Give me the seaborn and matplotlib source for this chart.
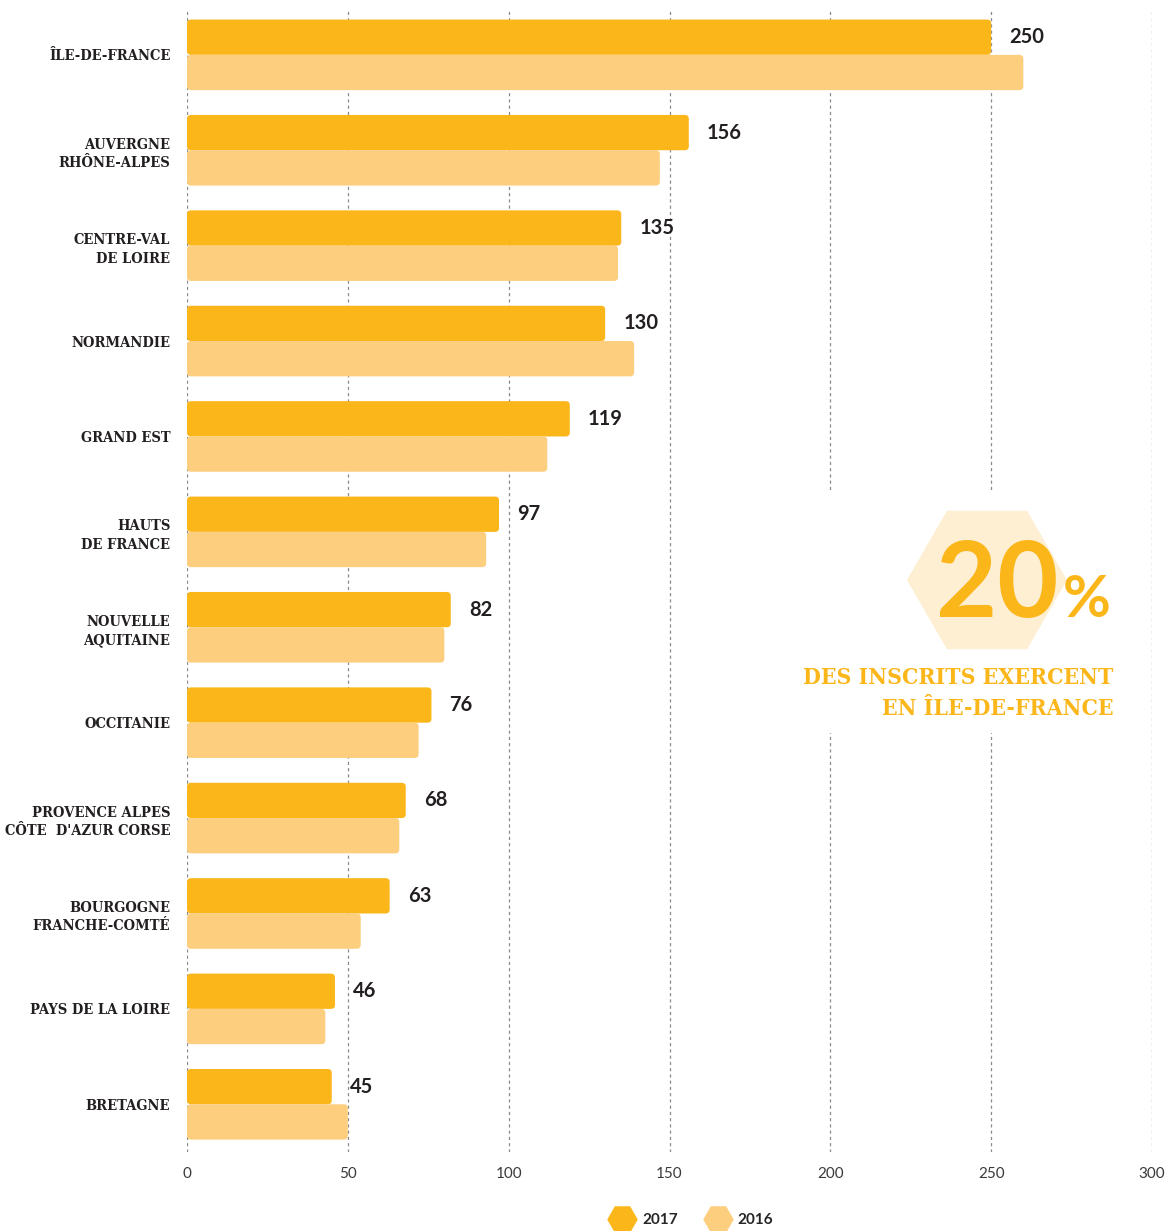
import numpy as np
import pandas as pd
import matplotlib
matplotlib.use("Agg")
import matplotlib.pyplot as plt
import matplotlib.patches as mpatches
import matplotlib.transforms as mtransforms
from matplotlib.lines import Line2D
import seaborn as sns

# Données
regions = ["ÎLE-DE-FRANCE", "AUVERGNE\nRHÔNE-ALPES", "CENTRE-VAL\nDE LOIRE", "NORMANDIE",
           "GRAND EST", "HAUTS\nDE FRANCE", "NOUVELLE\nAQUITAINE", "OCCITANIE",
           "PROVENCE ALPES\nCÔTE  D'AZUR CORSE", "BOURGOGNE\nFRANCHE-COMTÉ",
           "PAYS DE LA LOIRE", "BRETAGNE"]
inscrits_2017 = [250, 156, 135, 130, 119, 97, 82, 76, 68, 63, 46, 45]
inscrits_2016 = [260, 147, 134, 139, 112, 93, 80, 72, 66, 54, 43, 50]
annees = ["2017", "2016"]
x_ticks = [0, 50, 100, 150, 200, 250, 300]

JAUNE = "#FBB61A"
JAUNE_CLAIR = "#FDCE7D"
TEXTE = "#231F20"

df = pd.DataFrame({
    "region": regions * 2,
    "valeur": inscrits_2017 + inscrits_2016,
    "annee": ["2017"] * len(regions) + ["2016"] * len(regions),
})

sns.set_style("white")
W, H = 1169, 1231
fig = plt.figure(figsize=(W / 100, H / 100), dpi=100)
ax = fig.add_axes([187 / W, 1 - 1152 / H, (1152 - 187) / W, (1152 - 10) / H])

sns.barplot(data=df, y="region", x="valeur", hue="annee", hue_order=annees,
            palette=[JAUNE, JAUNE_CLAIR], width=0.74, orient="h",
            saturation=1, legend=False, ax=ax, zorder=3)

ax.set_xlim(0, 300)
ax.set_ylim(11.5, -0.47)
ax.set_xticks(x_ticks)
ax.set_xticklabels([str(t) for t in x_ticks], fontsize=11, color="#3a3a3a",
                   family="Lato")
ax.set_xlabel("")
ax.set_ylabel("")
ax.tick_params(axis="both", length=0)
ax.tick_params(axis="x", pad=11)
ax.tick_params(axis="y", pad=12)
for lab in ax.get_yticklabels():
    lab.set_family("DejaVu Serif")
    lab.set_fontstretch("condensed")
    lab.set_fontweight("bold")
    lab.set_fontsize(10.5)
    lab.set_color(TEXTE)
    lab.set_multialignment("right")
    lab.set_linespacing(1.4)
for s in ax.spines.values():
    s.set_visible(False)
ax.grid(axis="x", color="#8a8a8a", linestyle=(0, (2.5, 2.5)), linewidth=0.9)
ax.grid(axis="y", visible=False)
ax.set_axisbelow(True)

# Valeurs 2017
ax.bar_label(ax.containers[0], padding=13, fontsize=14.5, fontweight="bold",
             family="Lato", color=TEXTE)

# Coins arrondis
for cont in ax.containers:
    for p in cont:
        x0, y0 = p.get_x(), p.get_y()
        w, h = p.get_width(), p.get_height()
        fb = mpatches.FancyBboxPatch((x0, y0), w, h,
                                     boxstyle="round,pad=0,rounding_size=1.3",
                                     mutation_aspect=0.03,
                                     facecolor=p.get_facecolor(), edgecolor="none",
                                     zorder=3)
        ax.add_patch(fb)
        p.set_visible(False)

# Encadré 20 %
ident = mtransforms.IdentityTransform()
fig.add_artist(mpatches.Rectangle((790, H - 733), 345, 240, facecolor="white",
                                  edgecolor="none", transform=ident, zorder=1))
fig.add_artist(mpatches.RegularPolygon((987, H - 580), numVertices=6, radius=80,
                                       orientation=np.pi / 6, facecolor="#FEEFD2",
                                       edgecolor="none", transform=ident, zorder=2))
fig.text(1058 / W, 1 - 617 / H, "20", ha="right", va="baseline", fontsize=76,
         fontweight="bold", family="Lato", color=JAUNE, zorder=3)
fig.text(1063 / W, 1 - 617 / H, "%", ha="left", va="baseline", fontsize=42,
         fontweight="bold", family="Lato", color=JAUNE, zorder=3)
fig.text(1113 / W, 1 - 684 / H, "DES INSCRITS EXERCENT", ha="right", va="baseline",
         fontsize=16.5, fontweight="bold", family="DejaVu Serif", fontstretch="condensed",
         color=JAUNE, zorder=3)
fig.text(1113 / W, 1 - 715 / H, "EN ÎLE-DE-FRANCE", ha="right", va="baseline",
         fontsize=16.5, fontweight="bold", family="DejaVu Serif", fontstretch="condensed",
         color=JAUNE, zorder=3)

# Légende
handles = [Line2D([], [], marker="H", linestyle="none", markersize=22,
                  markerfacecolor=c, markeredgecolor="none", label=a)
           for c, a in zip([JAUNE, JAUNE_CLAIR], annees)]
fig.legend(handles=handles, loc="center", bbox_to_anchor=(690 / W, 1 - 1220 / H),
           ncol=2, frameon=False, handletextpad=0.3, columnspacing=1.6,
           prop={"family": "Lato", "weight": "bold", "size": 11})

fig.savefig("out.png", dpi=100)
